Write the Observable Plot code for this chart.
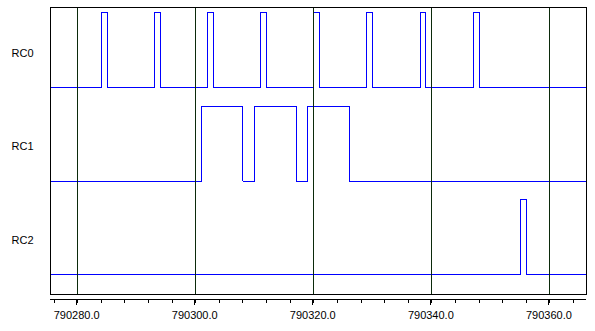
<!DOCTYPE html>
<html>
<head>
<meta charset="utf-8">
<script src="https://cdn.jsdelivr.net/npm/d3@7"></script>
<script src="https://cdn.jsdelivr.net/npm/@observablehq/plot@0.6"></script>
<style>
  html, body { margin: 0; padding: 0; background: #fff; }
  #chart svg { display: block; }
  #chart svg path, #chart svg line, #chart svg rect { shape-rendering: crispEdges; }
</style>
</head>
<body>
<div id="chart"></div>
<script>
// Channel names (top to bottom)
const channels = ["RC0", "RC1", "RC2"];
// Rising / falling edge times for each channel
const rc0Rise = [790284, 790293, 790302, 790311, 790320, 790329, 790338, 790347];
const rc0Fall = [790285, 790294, 790303, 790312, 790321, 790330, 790339, 790348];
const rc1Rise = [790301, 790310, 790319];
const rc1Fall = [790308, 790317, 790326];
const rc2Rise = [790355];
const rc2Fall = [790356];
// Axis ticks
const majorTicks = [790280, 790300, 790320, 790340, 790360];
const minorTicks = [790276, 790280, 790284, 790288, 790292, 790296, 790300, 790304, 790308, 790312, 790316,
  790320, 790324, 790328, 790332, 790336, 790340, 790344, 790348, 790352, 790356, 790360, 790364];

const xDomain = [790275.4, 790366.2];
const yDomain = [-0.211, 2.856];
const HIGH = 0.802;

const rises = [rc0Rise, rc1Rise, rc2Rise];
const falls = [rc0Fall, rc1Fall, rc2Fall];

const signal = [];
channels.forEach((name, i) => {
  const base = channels.length - 1 - i;
  const ev = [];
  rises[i].forEach(t => ev.push({t, v: 1}));
  falls[i].forEach(t => ev.push({t, v: 0}));
  ev.sort((a, b) => a.t - b.t);
  signal.push({name, t: xDomain[0], y: base});
  ev.forEach(e => signal.push({name, t: e.t, y: base + e.v * HIGH}));
  signal.push({name, t: xDomain[1], y: base});
});

const labels = channels.map((name, i) => ({name, y: channels.length - 1 - i + 0.37}));

const chart = Plot.plot({
  width: 595,
  height: 331,
  marginLeft: 50,
  marginRight: 9,
  marginTop: 7,
  marginBottom: 37,
  style: {fontFamily: "'Liberation Sans', Arial, sans-serif", fontSize: "11px", color: "black", background: "white"},
  x: {domain: xDomain, axis: null},
  y: {domain: yDomain, axis: null},
  marks: [
    Plot.line(signal, {x: "t", y: "y", z: "name", curve: "step-after", stroke: "#0000ff", strokeWidth: 1}),
    Plot.ruleX(majorTicks, {stroke: "#0b2a0b", strokeWidth: 1}),
    Plot.frame({stroke: "black", strokeWidth: 1}),
    Plot.ruleY([yDomain[0]], {dy: 5, stroke: "black", strokeWidth: 1}),
    Plot.axisX(minorTicks, {anchor: "bottom", label: null, tickSize: 4, dy: 5, tickFormat: () => "", stroke: "black"}),
    Plot.axisX(majorTicks, {anchor: "bottom", label: null, tickSize: 6, dy: 5, tickPadding: 6, dx: -1,
      tickFormat: d => d.toFixed(1), fill: "black", stroke: "black", fontSize: 11}),
    Plot.text(labels, {y: "y", text: "name", frameAnchor: "left", dx: -28, textAnchor: "middle", fill: "black", fontSize: 11})
  ]
});
document.getElementById("chart").appendChild(chart);
</script>
</body>
</html>
